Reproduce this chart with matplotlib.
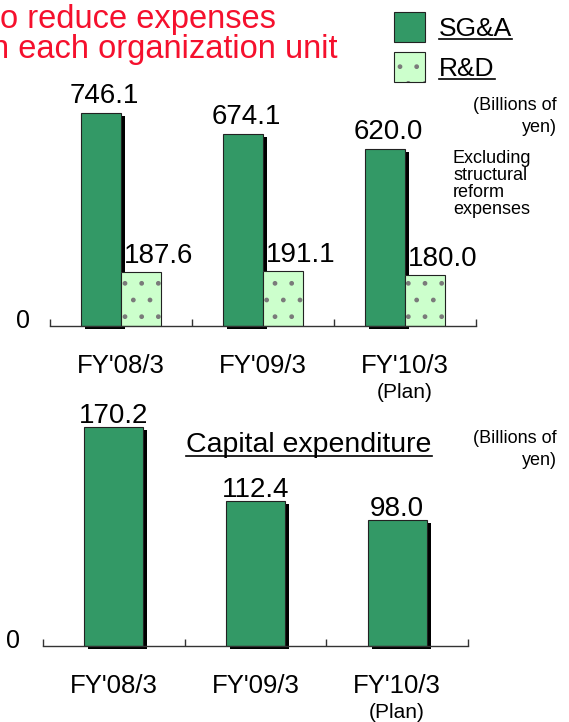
import matplotlib
matplotlib.use("Agg")
import numpy as np
import matplotlib.pyplot as plt
from matplotlib.patches import Rectangle
from matplotlib.lines import Line2D
from matplotlib.transforms import ScaledTranslation

plt.rcParams['font.family'] = ['Liberation Sans', 'DejaVu Sans']

# data (billions of yen)
years = ["FY'08/3", "FY'09/3", "FY'10/3"]
notes = ["", "", "(Plan)"]
sga = [746.1, 674.1, 620.0]
rnd = [187.6, 191.1, 180.0]
capex = [170.2, 112.4, 98.0]

GREEN = "#339966"
LIGHT = "#ccffcc"
RED = "#f5102d"
AXC = "#333333"
DOTS = "#7a7a7a"

W, H = 569, 722
fig = plt.figure(figsize=(W / 100, H / 100), dpi=100)


def fx(p): return p / W
def fy(p): return 1 - p / H
def pt(p): return p * 0.72          # pixels -> points at dpi 100


shadow_off = ScaledTranslation(0.04, -0.03, fig.dpi_scale_trans)


def base_axes(rect, ymax, zero_dx):
    ax = fig.add_axes(rect)
    ax.set_xlim(-0.5, 2.5); ax.set_ylim(0, ymax)
    for s in ("top", "right", "left"):
        ax.spines[s].set_visible(False)
    ax.spines["bottom"].set_color(AXC); ax.spines["bottom"].set_linewidth(1.0)
    ax.set_xticks([-0.5, 0.5, 1.5, 2.5]); ax.set_xticklabels([])
    ax.tick_params(axis="x", direction="in", length=5, width=1.0, color=AXC)
    ax.set_yticks([])
    ax.patch.set_alpha(0)
    for i, (yr, nt) in enumerate(zip(years, notes)):
        ax.annotate(yr, (i, 0), xytext=(0, -pt(40)), textcoords="offset points",
                    ha="center", va="center", fontsize=18.5)
        if nt:
            ax.annotate(nt, (i, 0), xytext=(0, -pt(66)), textcoords="offset points",
                        ha="center", va="center", fontsize=15)
    ax.annotate("0", (0, 0), xycoords="axes fraction", xytext=(-pt(zero_dx), pt(5)),
                textcoords="offset points", ha="center", va="center", fontsize=18)
    return ax


def shadow(ax, x, h, w, align):
    bars = ax.bar(x, h, w, align=align, color="black", lw=0, zorder=1, clip_on=False)
    for b in bars:
        b.set_transform(ax.transData + shadow_off)


x = np.arange(len(years))

# ---- top: SG&A and R&D
ax1 = base_axes([fx(50), fy(326), fx(476) - fx(50), fy(60) - fy(326)], 932, 27)
bw = 0.285
shadow(ax1, x - bw, sga, bw, "edge")
ax1.bar(x - bw, sga, bw, align="edge", color=GREEN, edgecolor="#222222", lw=0.8, zorder=2)
ax1.bar(x, rnd, bw, align="edge", color=LIGHT, edgecolor=DOTS, hatch=".", lw=0, zorder=2)
ax1.bar(x, rnd, bw, align="edge", fill=False, edgecolor="#222222", lw=0.8, zorder=3)
for i, v in enumerate(sga):
    ax1.annotate(f"{v:.1f}", (i - bw / 2, v), xytext=(pt(4), pt(10)), textcoords="offset points",
                 ha="center", va="baseline", fontsize=20)
for i, v in enumerate(rnd):
    ax1.annotate(f"{v:.1f}", (i, v), xytext=(pt(3), pt(9)), textcoords="offset points",
                 ha="left", va="baseline", fontsize=20)

# ---- bottom: capital expenditure
ax2 = base_axes([fx(43), fy(646), fx(468) - fx(43), fy(410) - fy(646)], 183, 30)
cw = 0.415
shadow(ax2, x, capex, cw, "center")
ax2.bar(x, capex, cw, color=GREEN, edgecolor="#222222", lw=0.8, zorder=2)
for i, v in enumerate(capex):
    ax2.annotate(f"{v:.1f}", (i, v), xytext=(0, pt(4)), textcoords="offset points",
                 ha="center", va="baseline", fontsize=20)

# ---- texts
fig.text(fx(0), fy(28), "o reduce expenses", fontsize=23.5, color=RED, va="baseline")
fig.text(fx(-9), fy(58), "n each organization unit", fontsize=23.5, color=RED, va="baseline")

for yb in (110, 443):
    fig.text(fx(557), fy(yb), "(Billions of", fontsize=13, ha="right", va="baseline")
    fig.text(fx(557), fy(yb + 22), "yen)", fontsize=13, ha="right", va="baseline")

for k, line in enumerate(["Excluding", "structural", "reform", "expenses"]):
    fig.text(fx(453), fy(163 + 17 * k), line, fontsize=13, ha="left", va="baseline")

# legend
underlined = []
for lab, ytop, fc, hatch in [("SG&A", 12, GREEN, None), ("R&D", 52, LIGHT, ".")]:
    if hatch:
        fig.add_artist(Rectangle((fx(394), fy(ytop + 30)), 31 / W, 30 / H, transform=fig.transFigure,
                                 facecolor=fc, edgecolor=DOTS, hatch=hatch, lw=0))
        fig.add_artist(Rectangle((fx(394), fy(ytop + 30)), 31 / W, 30 / H, transform=fig.transFigure,
                                 fill=False, edgecolor="#222222", lw=0.8))
    else:
        fig.add_artist(Rectangle((fx(394), fy(ytop + 30)), 31 / W, 30 / H, transform=fig.transFigure,
                                 facecolor=fc, edgecolor="#222222", lw=0.8))
    t = fig.text(fx(439), fy(ytop + 24), lab, fontsize=19, va="baseline")
    underlined.append((t, ytop + 27))

t = fig.text(fx(309), fy(452), "Capital expenditure", fontsize=20.5, ha="center", va="baseline")
underlined.append((t, 456))

fig.canvas.draw()
for t, yl in underlined:
    bb = t.get_window_extent()
    fig.add_artist(Line2D([bb.x0 / W, bb.x1 / W], [fy(yl), fy(yl)], transform=fig.transFigure,
                          color="black", lw=1.2))

fig.savefig("out.png", dpi=100)
